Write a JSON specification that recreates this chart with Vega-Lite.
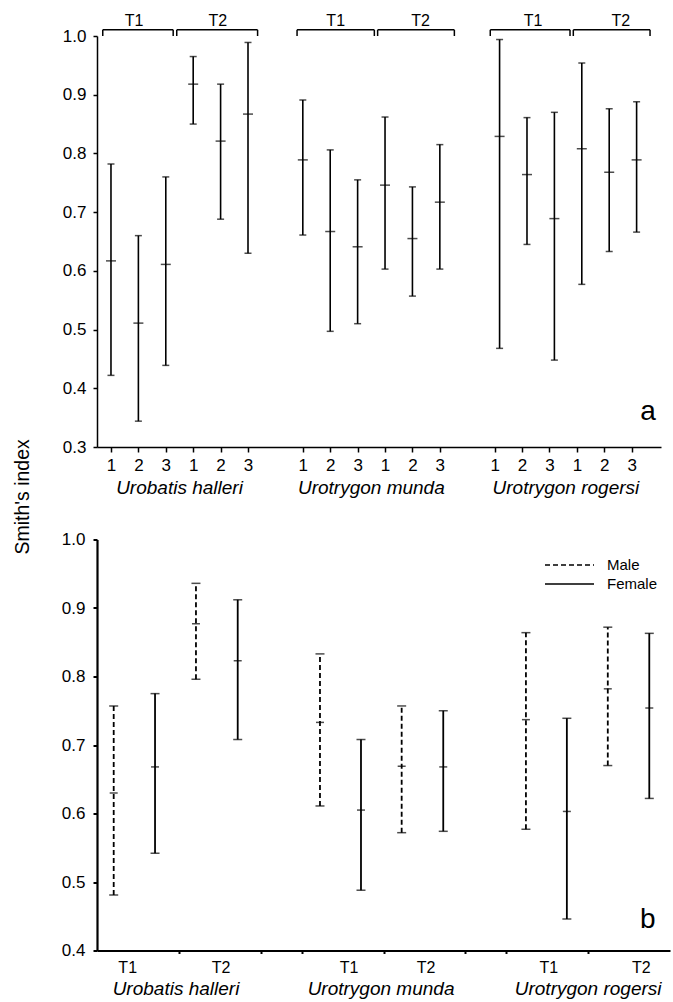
{
  "$schema": "https://vega.github.io/schema/vega-lite/v6.json",
  "background": "white",
  "padding": {"left": 13, "top": 12, "right": 4, "bottom": 2},
  "bounds": "flush",
  "spacing": 92.5,
  "config": {
    "view": {"stroke": null},
    "font": "Liberation Sans",
    "axis": {"grid": false, "domain": true, "ticks": true, "labels": true, "labelOverlap": false, "domainColor": "black", "tickColor": "black", "labelColor": "black", "labelFont": "Liberation Sans", "labelFontSize": 17},
    "text": {"font": "Liberation Sans", "fontSize": 17, "color": "black"}
  },
  "datasets": {
    "panelA": [
      {"species": "Urobatis halleri", "period": "T1", "site": 1, "pos": 0, "mean": 0.617, "lo": 0.422, "hi": 0.782},
      {"species": "Urobatis halleri", "period": "T1", "site": 2, "pos": 1, "mean": 0.511, "lo": 0.344, "hi": 0.660},
      {"species": "Urobatis halleri", "period": "T1", "site": 3, "pos": 2, "mean": 0.611, "lo": 0.439, "hi": 0.760},
      {"species": "Urobatis halleri", "period": "T2", "site": 1, "pos": 3, "mean": 0.918, "lo": 0.850, "hi": 0.965},
      {"species": "Urobatis halleri", "period": "T2", "site": 2, "pos": 4, "mean": 0.821, "lo": 0.688, "hi": 0.918},
      {"species": "Urobatis halleri", "period": "T2", "site": 3, "pos": 5, "mean": 0.867, "lo": 0.630, "hi": 0.989},
      {"species": "Urotrygon munda", "period": "T1", "site": 1, "pos": 7, "mean": 0.789, "lo": 0.661, "hi": 0.891},
      {"species": "Urotrygon munda", "period": "T1", "site": 2, "pos": 8, "mean": 0.667, "lo": 0.497, "hi": 0.806},
      {"species": "Urotrygon munda", "period": "T1", "site": 3, "pos": 9, "mean": 0.641, "lo": 0.510, "hi": 0.755},
      {"species": "Urotrygon munda", "period": "T2", "site": 1, "pos": 10, "mean": 0.746, "lo": 0.603, "hi": 0.862},
      {"species": "Urotrygon munda", "period": "T2", "site": 2, "pos": 11, "mean": 0.655, "lo": 0.557, "hi": 0.743},
      {"species": "Urotrygon munda", "period": "T2", "site": 3, "pos": 12, "mean": 0.717, "lo": 0.603, "hi": 0.815},
      {"species": "Urotrygon rogersi", "period": "T1", "site": 1, "pos": 14.18, "mean": 0.829, "lo": 0.468, "hi": 0.994},
      {"species": "Urotrygon rogersi", "period": "T1", "site": 2, "pos": 15.18, "mean": 0.764, "lo": 0.645, "hi": 0.861},
      {"species": "Urotrygon rogersi", "period": "T1", "site": 3, "pos": 16.18, "mean": 0.689, "lo": 0.448, "hi": 0.870},
      {"species": "Urotrygon rogersi", "period": "T2", "site": 1, "pos": 17.18, "mean": 0.808, "lo": 0.577, "hi": 0.954},
      {"species": "Urotrygon rogersi", "period": "T2", "site": 2, "pos": 18.18, "mean": 0.768, "lo": 0.633, "hi": 0.876},
      {"species": "Urotrygon rogersi", "period": "T2", "site": 3, "pos": 19.18, "mean": 0.789, "lo": 0.666, "hi": 0.888}
    ],
    "brackets": [
      {"species": "Urobatis halleri", "period": "T1", "start": -0.30, "end": 2.27, "lab": 0.84},
      {"species": "Urobatis halleri", "period": "T2", "start": 2.40, "end": 5.35, "lab": 3.9},
      {"species": "Urotrygon munda", "period": "T1", "start": 6.79, "end": 9.61, "lab": 8.2},
      {"species": "Urotrygon munda", "period": "T2", "start": 9.73, "end": 12.53, "lab": 11.3},
      {"species": "Urotrygon rogersi", "period": "T1", "start": 13.84, "end": 16.75, "lab": 15.4},
      {"species": "Urotrygon rogersi", "period": "T2", "start": 16.87, "end": 19.67, "lab": 18.6}
    ],
    "speciesA": [
      {"species": "Urobatis halleri", "pos": 2.5},
      {"species": "Urotrygon munda", "pos": 9.5},
      {"species": "Urotrygon rogersi", "pos": 16.6}
    ],
    "panelB": [
      {"species": "Urobatis halleri", "period": "T1", "sex": "Male", "pos": 0.204, "mean": 0.630, "lo": 0.481, "hi": 0.757},
      {"species": "Urobatis halleri", "period": "T1", "sex": "Female", "pos": 0.709, "mean": 0.668, "lo": 0.542, "hi": 0.775},
      {"species": "Urobatis halleri", "period": "T2", "sex": "Male", "pos": 1.209, "mean": 0.877, "lo": 0.796, "hi": 0.936},
      {"species": "Urobatis halleri", "period": "T2", "sex": "Female", "pos": 1.719, "mean": 0.823, "lo": 0.708, "hi": 0.912},
      {"species": "Urotrygon munda", "period": "T1", "sex": "Male", "pos": 2.724, "mean": 0.733, "lo": 0.611, "hi": 0.833},
      {"species": "Urotrygon munda", "period": "T1", "sex": "Female", "pos": 3.225, "mean": 0.605, "lo": 0.488, "hi": 0.708},
      {"species": "Urotrygon munda", "period": "T2", "sex": "Male", "pos": 3.722, "mean": 0.669, "lo": 0.572, "hi": 0.757},
      {"species": "Urotrygon munda", "period": "T2", "sex": "Female", "pos": 4.23, "mean": 0.668, "lo": 0.574, "hi": 0.750},
      {"species": "Urotrygon rogersi", "period": "T1", "sex": "Male", "pos": 5.24, "mean": 0.737, "lo": 0.577, "hi": 0.864},
      {"species": "Urotrygon rogersi", "period": "T1", "sex": "Female", "pos": 5.74, "mean": 0.603, "lo": 0.446, "hi": 0.739},
      {"species": "Urotrygon rogersi", "period": "T2", "sex": "Male", "pos": 6.24, "mean": 0.782, "lo": 0.670, "hi": 0.872},
      {"species": "Urotrygon rogersi", "period": "T2", "sex": "Female", "pos": 6.747, "mean": 0.754, "lo": 0.622, "hi": 0.863}
    ],
    "periodsB": [
      {"period": "T1", "pos": 0.375},
      {"period": "T2", "pos": 1.515},
      {"period": "T1", "pos": 3.08},
      {"period": "T2", "pos": 4.02},
      {"period": "T1", "pos": 5.52},
      {"period": "T2", "pos": 6.65}
    ],
    "speciesB": [
      {"species": "Urobatis halleri", "pos": 0.965},
      {"species": "Urotrygon munda", "pos": 3.47},
      {"species": "Urotrygon rogersi", "pos": 6.0}
    ]
  },
  "vconcat": [
    {
      "width": 564,
      "height": 411,
      "layer": [
        {
          "data": {"name": "panelA"},
          "mark": {"type": "rule", "color": "black", "strokeWidth": 1.6},
          "encoding": {
            "x": {"field": "pos", "type": "quantitative", "title": null, "scale": {"domain": [-0.51, 20.07], "nice": false, "zero": false},
              "axis": {"orient": "bottom", "values": [0, 1, 2, 3, 4, 5, 7, 8, 9, 10, 11, 12, 14, 15, 16, 17, 18, 19], "tickCount": 100, "labelExpr": "'' + ((datum.value % 7) % 3 + 1)", "tickSize": 5, "tickWidth": 1.5, "domainWidth": 1.5, "labelPadding": 5, "labelFlush": false, "labelOverlap": false}},
            "y": {"field": "lo", "type": "quantitative", "title": null, "scale": {"domain": [0.3, 1.0], "nice": false, "zero": false},
              "axis": {"orient": "left", "values": [0.3, 0.4, 0.5, 0.6, 0.7, 0.8, 0.9, 1.0], "tickCount": 100, "format": ".1f", "tickSize": 4, "tickWidth": 1.5, "domainWidth": 1.5, "labelPadding": 7, "labelOverlap": false}},
            "y2": {"field": "hi"}
          }
        },
        {
          "data": {"name": "panelA"},
          "transform": [{"fold": ["lo", "hi"], "as": ["end", "v"]}],
          "mark": {"type": "tick", "orient": "horizontal", "size": 7, "thickness": 1.5, "color": "black"},
          "encoding": {
            "x": {"field": "pos", "type": "quantitative"},
            "y": {"field": "v", "type": "quantitative"}
          }
        },
        {
          "data": {"name": "panelA"},
          "mark": {"type": "tick", "orient": "horizontal", "size": 10, "thickness": 1.5, "color": "black"},
          "encoding": {
            "x": {"field": "pos", "type": "quantitative"},
            "y": {"field": "mean", "type": "quantitative"}
          }
        },
        {
          "data": {"name": "brackets"},
          "mark": {"type": "rule", "color": "black", "strokeWidth": 1.5, "clip": false},
          "encoding": {
            "x": {"field": "start", "type": "quantitative"},
            "x2": {"field": "end"},
            "y": {"datum": 1.0105}
          }
        },
        {
          "data": {"name": "brackets"},
          "mark": {"type": "rule", "color": "black", "strokeWidth": 1.5, "clip": false},
          "encoding": {
            "x": {"field": "start", "type": "quantitative"},
            "y": {"datum": 1.0},
            "y2": {"datum": 1.0105}
          }
        },
        {
          "data": {"name": "brackets"},
          "mark": {"type": "rule", "color": "black", "strokeWidth": 1.5, "clip": false},
          "encoding": {
            "x": {"field": "end", "type": "quantitative"},
            "y": {"datum": 1.0},
            "y2": {"datum": 1.0105}
          }
        },
        {
          "data": {"name": "brackets"},
          "mark": {"type": "text", "baseline": "middle", "align": "center", "fontSize": 16, "clip": false},
          "encoding": {
            "x": {"field": "lab", "type": "quantitative"},
            "y": {"datum": 1.026},
            "text": {"field": "period"}
          }
        },
        {
          "data": {"name": "speciesA"},
          "mark": {"type": "text", "baseline": "middle", "align": "center", "fontSize": 19, "fontStyle": "italic", "dy": 41, "clip": false},
          "encoding": {
            "x": {"field": "pos", "type": "quantitative"},
            "y": {"datum": 0.3},
            "text": {"field": "species"}
          }
        },
        {
          "data": {"values": [{"panel": "a"}]},
          "mark": {"type": "text", "baseline": "middle", "align": "center", "fontSize": 28},
          "encoding": {
            "x": {"datum": 19.6},
            "y": {"datum": 0.36},
            "text": {"field": "panel"}
          }
        },
        {
          "data": {"values": [{"title": "Smith's index"}]},
          "mark": {"type": "text", "baseline": "middle", "align": "center", "fontSize": 19.5, "angle": 270, "clip": false},
          "encoding": {
            "x": {"datum": -3.2},
            "y": {"datum": 0.215},
            "text": {"field": "title"}
          }
        }
      ]
    },
    {
      "width": 573,
      "height": 411,
      "layer": [
        {
          "data": {"name": "panelB"},
          "mark": {"type": "rule", "color": "black", "strokeWidth": 1.8},
          "encoding": {
            "x": {"field": "pos", "type": "quantitative", "title": null, "scale": {"domain": [0, 7], "nice": false, "zero": false},
              "axis": {"orient": "bottom", "values": [1, 2, 2.5, 3.5, 4.5, 5, 6], "tickCount": 100, "labels": false, "tickSize": 3, "tickWidth": 2, "domainWidth": 2.2}},
            "y": {"field": "lo", "type": "quantitative", "title": null, "scale": {"domain": [0.4, 1.0], "nice": false, "zero": false},
              "axis": {"orient": "left", "values": [0.4, 0.5, 0.6, 0.7, 0.8, 0.9, 1.0], "tickCount": 100, "format": ".1f", "tickSize": 4, "tickWidth": 2, "domainWidth": 2.2, "labelPadding": 8, "labelOverlap": false}},
            "y2": {"field": "hi"},
            "strokeDash": {"field": "sex", "type": "nominal", "scale": {"domain": ["Male", "Female"], "range": [[5, 3], [1, 0]]},
              "legend": {"title": null, "orient": "none", "legendX": 447, "legendY": 521, "symbolType": "stroke", "symbolSize": 2401, "symbolStrokeWidth": 1.5, "symbolStrokeColor": "black", "labelFont": "Liberation Sans", "labelFontSize": 15, "labelColor": "black", "labelOffset": 12, "rowPadding": 3, "clipHeight": 16}}
          }
        },
        {
          "data": {"name": "panelB"},
          "transform": [{"fold": ["lo", "hi"], "as": ["end", "v"]}],
          "mark": {"type": "tick", "orient": "horizontal", "size": 9, "thickness": 1.5, "color": "black"},
          "encoding": {
            "x": {"field": "pos", "type": "quantitative"},
            "y": {"field": "v", "type": "quantitative"}
          }
        },
        {
          "data": {"name": "panelB"},
          "mark": {"type": "tick", "orient": "horizontal", "size": 8, "thickness": 1.5, "color": "black"},
          "encoding": {
            "x": {"field": "pos", "type": "quantitative"},
            "y": {"field": "mean", "type": "quantitative"}
          }
        },
        {
          "data": {"name": "periodsB"},
          "mark": {"type": "text", "baseline": "middle", "align": "center", "fontSize": 16, "dy": 17.5, "clip": false},
          "encoding": {
            "x": {"field": "pos", "type": "quantitative"},
            "y": {"datum": 0.4},
            "text": {"field": "period"}
          }
        },
        {
          "data": {"name": "speciesB"},
          "mark": {"type": "text", "baseline": "middle", "align": "center", "fontSize": 19, "fontStyle": "italic", "dy": 38.5, "clip": false},
          "encoding": {
            "x": {"field": "pos", "type": "quantitative"},
            "y": {"datum": 0.4},
            "text": {"field": "species"}
          }
        },
        {
          "data": {"values": [{"panel": "b"}]},
          "mark": {"type": "text", "baseline": "middle", "align": "center", "fontSize": 28},
          "encoding": {
            "x": {"datum": 6.73},
            "y": {"datum": 0.4445},
            "text": {"field": "panel"}
          }
        }
      ]
    }
  ]
}
